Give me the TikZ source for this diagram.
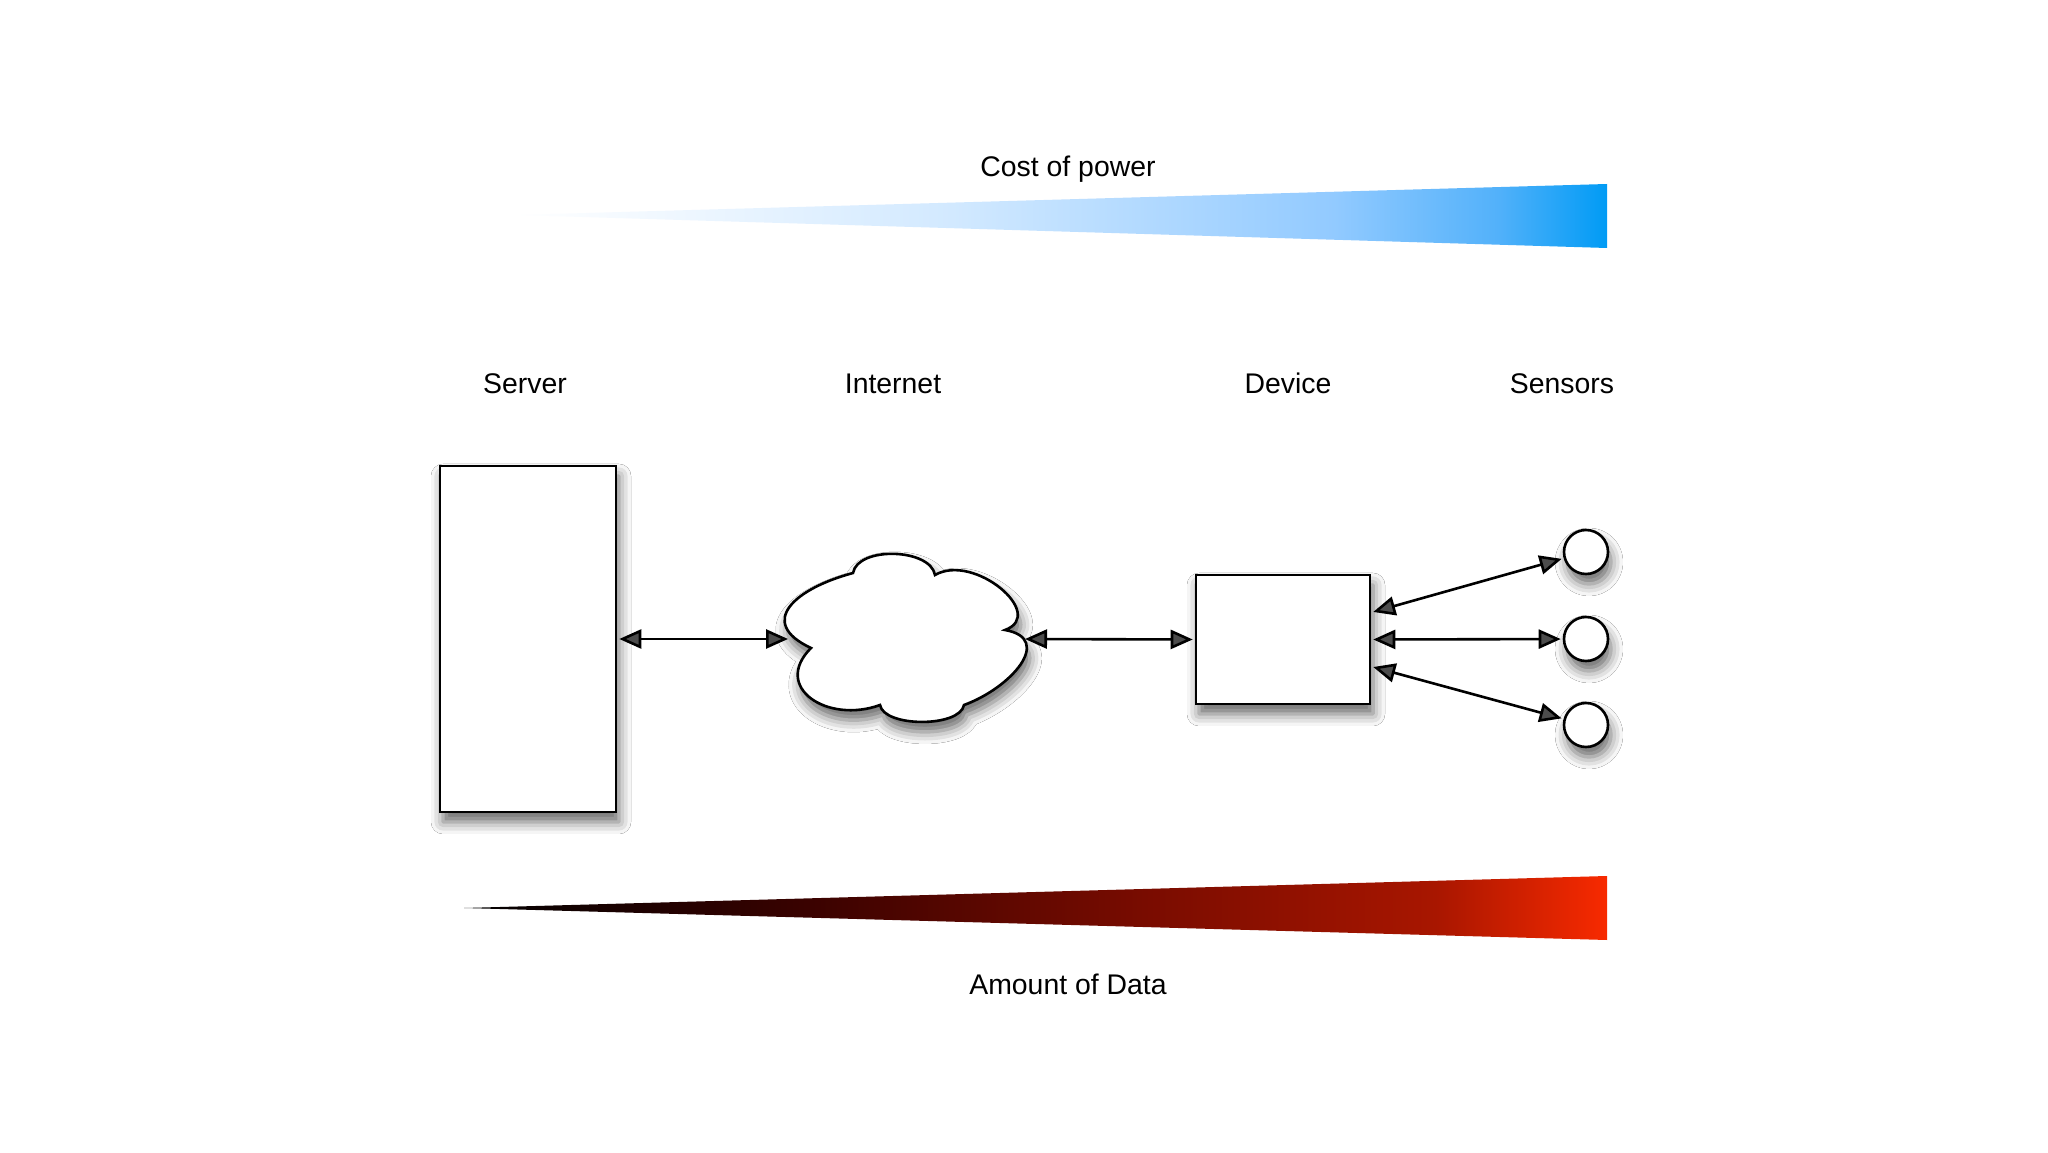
\documentclass[tikz,border=0pt]{standalone}
\usepackage{fontspec}
\setmainfont{Liberation Sans}
\usetikzlibrary{arrows.meta,calc,shadows.blur}
\definecolor{pwA}{HTML}{D2E9FF}
\definecolor{pwB}{HTML}{92CAFF}
\definecolor{pwC}{HTML}{52B1FA}
\definecolor{pwD}{HTML}{009BF5}
\definecolor{daA}{HTML}{3A0200}
\definecolor{daB}{HTML}{7A0C00}
\definecolor{daC}{HTML}{A81600}
\definecolor{daD}{HTML}{F82A00}
\pgfdeclarehorizontalshading{powershade}{100bp}{color(0bp)=(white); color(25bp)=(white); color(45bp)=(pwA); color(62.5bp)=(pwB); color(70bp)=(pwC); color(75bp)=(pwD); color(100bp)=(pwD)}
\pgfdeclarehorizontalshading{datashade}{100bp}{color(0bp)=(black); color(25bp)=(black); color(40bp)=(daA); color(55bp)=(daB); color(67.5bp)=(daC); color(75bp)=(daD); color(100bp)=(daD)}
\begin{document}
\begin{tikzpicture}[x=0.5pt,y=0.5pt,
  shade/.style={blur shadow={shadow xshift=1.5pt, shadow yshift=-5pt, shadow blur radius=6pt, shadow opacity=60}},
  box/.style={draw=black, line width=1.3pt, fill=white, inner sep=0pt, shade},
  sensor/.style={circle, draw=black, line width=1.3pt, fill=white, minimum size=22pt, inner sep=0pt, shade},
  link/.style={line width=1.3pt, {Triangle[length=11pt,width=9.5pt]}-{Triangle[length=11pt,width=9.5pt]}, shorten <=1pt, shorten >=1pt},
  lbl/.style={font=\fontsize{14.2pt}{17pt}\selectfont, inner sep=0pt, text height=10.2pt, text depth=3pt}]
\useasboundingbox[fill=white] (0,0) rectangle (2048,1152);

% gradient wedges
\path[shading=powershade] (516,937) -- (1607,968) -- (1607,904) -- cycle;
\path[shading=datashade] (464,244) -- (1607,276) -- (1607,212) -- cycle;
\node[lbl] (cost) at (1068,983) {Cost of power};
\node[lbl] (data) at (1068,165) {Amount of Data};

% column labels
\node[lbl] (lserver) at (525,766) {Server};
\node[lbl] (linternet) at (893,766) {Internet};
\node[lbl] (ldevice) at (1288,766) {Device};
\node[lbl] (lsensors) at (1562,766) {Sensors};

% shapes
\node[box, minimum width=88pt, minimum height=173pt] (server) at (528,513) {};
\node[box, minimum width=87pt, minimum height=64.5pt] (device) at (1283,512.5) {};
\draw[box] (811,504) to[out=155,in=195,looseness=1.8] (853,579)
  to[out=80,in=100,looseness=0.85] (935,577)
  to[out=30,in=20,looseness=1.3] (1005,522)
  to[out=-10,in=20,looseness=1.5] (964,447)
  to[out=-100,in=-80,looseness=0.7] (880,447)
  to[out=200,in=225,looseness=1.6] (811,504) -- cycle;
\coordinate (cloudL) at (790,513);
\coordinate (cloudR) at (1023,513);
\node[sensor] (s1) at (1586,600) {};
\node[sensor] (s2) at (1586,513) {};
\node[sensor] (s3) at (1586,427) {};

% connectors
\draw[link] (server.east) -- (cloudL);
\draw[link] (cloudR) -- (device.west);
\draw[link] ($(device.east)+(0,27)$) -- (s1);
\draw[link] (device.east) -- (s2);
\draw[link] ($(device.east)+(0,-27)$) -- (s3);
\end{tikzpicture}
\end{document}
